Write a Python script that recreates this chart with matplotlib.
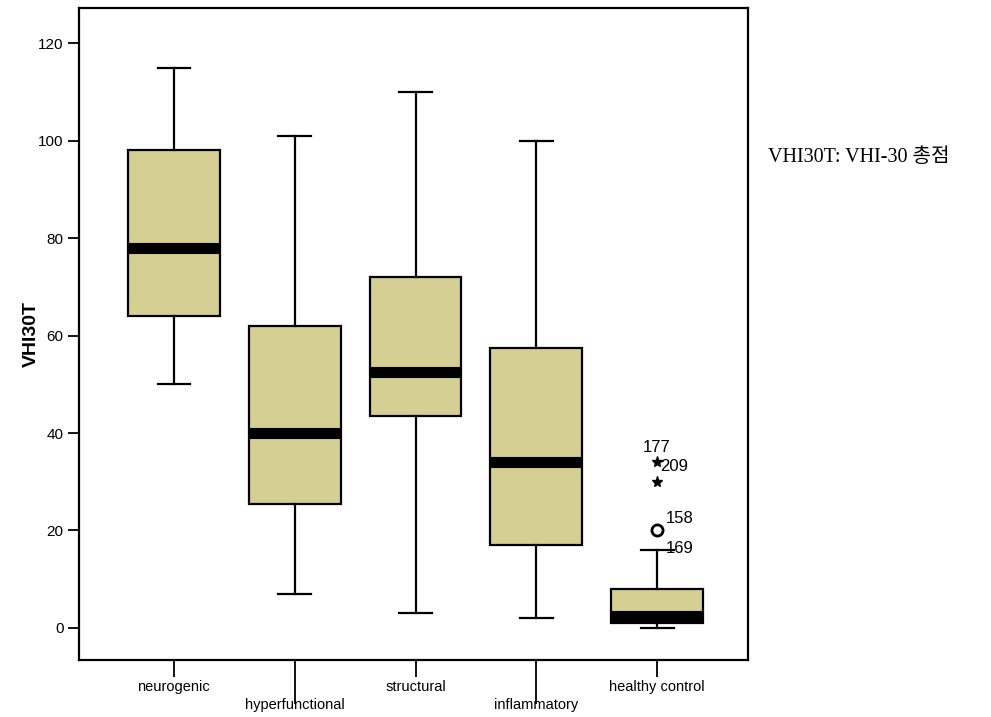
import matplotlib
matplotlib.use("Agg")
import matplotlib.pyplot as plt
import matplotlib.transforms as mtransforms

# -------------------------------
# Data
# -------------------------------
groups = ["neurogenic", "hyperfunctional", "structural", "inflammatory", "healthy control"]
whisker_low = [50, 7, 3, 2, 0]
q1 = [64, 25.5, 43.5, 17, 1]
medians = [78, 40, 52.5, 34, 2.5]
q3 = [98, 62, 72, 57.5, 8]
whisker_high = [115, 101, 110, 100, 16]

# outliers of the healthy control group
mild_vals = [20]
extreme_vals = [34, 30]
outlier_labels = ["177", "209", "158", "169"]
label_vals = [37, 33.2, 22.5, 16.3]

box_color = "#D5CF94"

fig = plt.figure(figsize=(9.91, 7.17), dpi=100)
ax = fig.add_axes([0.0797, 0.0795, 0.675, 0.909])

stats = []
for i, g in enumerate(groups):
    stats.append({
        "label": g, "whislo": whisker_low[i], "q1": q1[i], "med": medians[i],
        "q3": q3[i], "whishi": whisker_high[i], "fliers": [],
    })

positions = list(range(1, len(groups) + 1))
ax.bxp(stats, positions=positions, widths=0.76, patch_artist=True, showfliers=False,
       boxprops=dict(facecolor=box_color, edgecolor="black", linewidth=1.6),
       medianprops=dict(color="black", linewidth=8, solid_capstyle="butt"),
       whiskerprops=dict(color="black", linewidth=1.6),
       capprops=dict(color="black", linewidth=1.6), capwidths=0.27)

hc = positions[-1]
ax.plot([hc] * len(mild_vals), mild_vals, "o", mfc="white", mec="black", mew=2, ms=8)
ax.plot([hc] * len(extreme_vals), extreme_vals, "*", color="black", ms=8)

# outlier case labels
label_x = [hc - 0.12, hc + 0.02, hc + 0.07, hc + 0.07]
for x, y, t in zip(label_x, label_vals, outlier_labels):
    ax.text(x, y, t, fontsize=12, family="Liberation Sans", va="center", ha="left")

ax.set_xlim(0.215, 5.75)
ax.set_ylim(-6.6, 127.2)
ax.set_yticks([0, 20, 40, 60, 80, 100, 120])
ax.tick_params(axis="y", direction="out", length=8, width=1.3, labelsize=11, pad=3)
for lab in ax.get_yticklabels():
    lab.set_family("Liberation Sans")

ax.set_xticks(positions)
ax.set_xticklabels([])
ax.tick_params(axis="x", direction="out", length=12, width=1.3)
for i, tick in enumerate(ax.xaxis.get_major_ticks()):
    if i % 2 == 1:
        tick.tick1line.set_markersize(32)

# staggered category labels
trans = mtransforms.blended_transform_factory(ax.transData, ax.transAxes)
for i, g in enumerate(groups):
    y = -0.03 if i % 2 == 0 else -0.058
    ax.text(positions[i], y, g, transform=trans, ha="center", va="top",
            fontsize=10.5, family="Liberation Sans")

ax.set_ylabel("VHI30T", fontsize=14, fontweight="bold", family="Liberation Sans", labelpad=-1)

for sp in ax.spines.values():
    sp.set_linewidth(1.6)

fig.text(0.775, 0.781, "VHI30T: VHI-30 총점", fontsize=14.5,
         family=["Liberation Serif", "Noto Sans CJK KR"], va="center", ha="left")

fig.savefig("out.png", dpi=100)
